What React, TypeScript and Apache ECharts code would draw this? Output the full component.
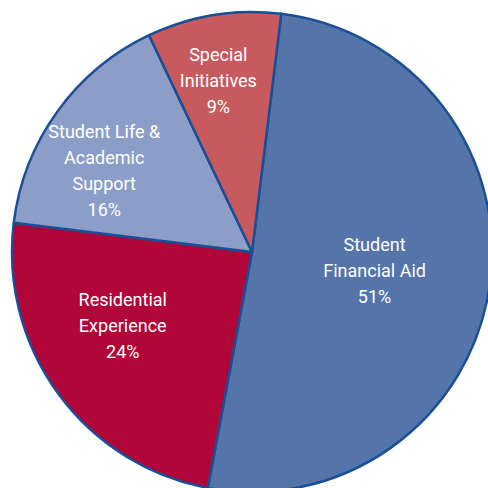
import React, { useEffect, useRef } from "react";
import * as echarts from "echarts";

const categories = [
  "Student\nFinancial Aid",
  "Residential\nExperience",
  "Student Life &\nAcademic\nSupport",
  "Special\nInitiatives",
];
const values = [51, 24, 16, 9];
const colors = ["#5474AA", "#B00638", "#8C9EC7", "#C65A5E"];
const labelShifts = [
  [1, 0],
  [-30, 1],
  [-48, -10],
  [-14, -50],
];

export default function App() {
  const ref = useRef<HTMLDivElement>(null);
  useEffect(() => {
    if (!ref.current) return;
    const chart = echarts.init(ref.current, undefined, { renderer: "svg" });
    chart.setOption({
      animation: false,
      backgroundColor: "#ffffff",
      series: [
        {
          type: "pie",
          center: [252, 252],
          radius: 240,
          startAngle: 83,
          clockwise: true,
          avoidLabelOverlap: false,
          itemStyle: { borderColor: "#1A4F95", borderWidth: 2.5 },
          label: {
            show: true,
            position: "inside",
            color: "#ffffff",
            fontFamily: "Roboto, 'Liberation Sans', sans-serif",
            fontSize: 18,
            lineHeight: 26,
            align: "center",
            formatter: (p: any) => `${p.name}\n${p.value}%`,
          },
          labelLine: { show: false },
          labelLayout: (p: any) => ({
            dx: labelShifts[p.dataIndex][0],
            dy: labelShifts[p.dataIndex][1],
          }),
          emphasis: { disabled: true },
          data: categories.map((c, i) => ({
            name: c,
            value: values[i],
            itemStyle: { color: colors[i] },
          })),
        },
      ],
    });
    return () => chart.dispose();
  }, []);
  return (
    <div
      ref={ref}
      style={{ position: "fixed", left: 0, top: 0, width: 488, height: 488 }}
    />
  );
}
